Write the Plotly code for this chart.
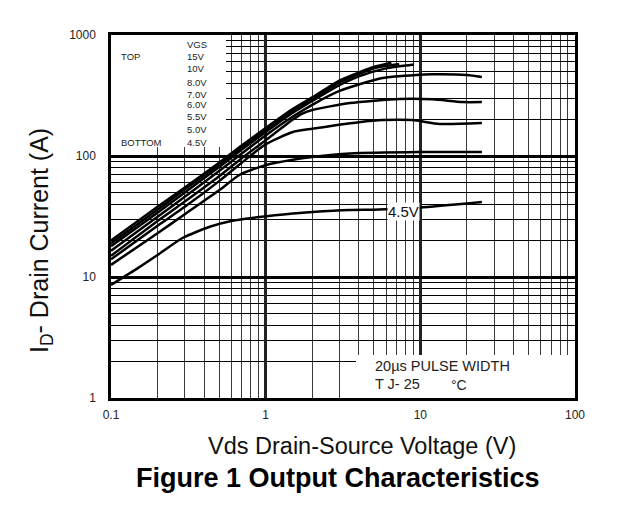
import plotly.graph_objects as go

# ---- data ----
vgs_labels = ["15V", "10V", "8.0V", "7.0V", "6.0V", "5.5V", "5.0V", "4.5V"]

vds_15 = [0.1, 0.2, 0.3, 0.5, 0.7, 1, 1.5, 2, 3, 4, 5, 6.5]
id_15 = [20, 38, 55, 88, 122, 170, 245, 305, 420, 490, 545, 590]

vds_10 = [0.1, 0.2, 0.3, 0.5, 0.7, 1, 1.5, 2, 3, 4, 5, 7.3]
id_10 = [19, 36, 53, 85, 118, 165, 238, 295, 405, 475, 530, 575]

vds_8 = [0.1, 0.2, 0.3, 0.5, 0.7, 1, 1.5, 2, 3, 4, 6, 9.1]
id_8 = [18, 34, 50, 81, 113, 158, 228, 285, 385, 455, 530, 570]

vds_7 = [0.1, 0.2, 0.3, 0.5, 0.7, 1, 1.5, 2, 3, 4, 5.7, 9.4, 12, 20, 25]
id_7 = [16.5, 31.5, 46, 75, 105, 148, 212, 265, 345, 390, 441, 467, 473, 467, 450]

vds_6 = [0.1, 0.2, 0.3, 0.5, 0.7, 1, 1.5, 1.7, 2, 3.5, 7.3, 12, 18.7, 25]
id_6 = [15, 29, 42, 68, 96, 135, 200, 222, 240, 274, 296, 294, 279, 279]

vds_55 = [0.1, 0.2, 0.3, 0.5, 0.7, 1, 1.5, 2, 2.9, 4, 5.7, 8.9, 13.3, 25]
id_55 = [14, 26.5, 38, 62, 88, 125, 158, 168, 180, 190, 198, 198, 184, 187]

vds_5 = [0.1, 0.2, 0.3, 0.5, 0.68, 1, 1.5, 2, 3.5, 10, 25]
id_5 = [12.6, 23, 33, 52, 70, 84, 93, 98, 105, 108, 108]

vds_45 = [0.1, 0.15, 0.2, 0.29, 0.435, 0.6, 0.91, 1.5, 2, 3.5, 5, 7, 10, 25]
id_45 = [8.6, 11.9, 15.2, 21, 26, 29, 31.3, 33.5, 34.5, 35.8, 36, 36.5, 37.5, 41.7]

x_ticks = [0.1, 1, 10, 100]
x_tick_text = ["0.1", "1", "10", "100"]
y_ticks = [1, 10, 100, 1000]
y_tick_text = ["1", "10", "100", "1000"]
minor_vals = [m * 10 ** e for e in range(-1, 3) for m in range(2, 10)]

series = [
    (vds_15, id_15), (vds_10, id_10), (vds_8, id_8), (vds_7, id_7),
    (vds_6, id_6), (vds_55, id_55), (vds_5, id_5), (vds_45, id_45),
]

FONT = "Liberation Sans, Arial, sans-serif"
L, T, PW, PH = 111, 35, 464, 363  # plot area in pixels


def px(xp):
    return (xp - L) / PW


def py(yp):
    return (T + PH - yp) / PH


fig = go.Figure()
for (xs, ys), name in zip(series, vgs_labels):
    fig.add_trace(go.Scatter(x=xs, y=ys, mode="lines", name=name,
                             line=dict(color="black", width=2.5, shape="spline", smoothing=0.6),
                             showlegend=False))

fig.update_layout(
    width=633, height=505,
    margin=dict(l=111, r=58, t=35, b=107),
    paper_bgcolor="white", plot_bgcolor="white",
    font=dict(family=FONT, color="black"),
)

fig.update_xaxes(
    type="log", range=[-1, 2],
    tickvals=x_ticks, ticktext=x_tick_text,
    tickfont=dict(size=12, color="#222"),
    ticks="", ticklabelstandoff=4,
    showgrid=True, gridcolor="#222", gridwidth=2.5,
    minor=dict(tickvals=minor_vals, showgrid=True, gridcolor="#3a3a3a", gridwidth=1.4, ticks=""),
    showline=True, linecolor="black", linewidth=2.5, mirror=True,
    zeroline=False,
)
fig.update_yaxes(
    type="log", range=[0, 3],
    tickvals=y_ticks, ticktext=y_tick_text,
    tickfont=dict(size=12, color="#222"),
    ticks="", ticklabelstandoff=10,
    showgrid=True, gridcolor="black", gridwidth=2.8,
    minor=dict(tickvals=minor_vals, showgrid=True, gridcolor="black", gridwidth=1.4, ticks=""),
    showline=True, linecolor="black", linewidth=2.5, mirror=True,
    zeroline=False,
)

# white boxes that hide the grid (legend box top-left, note box bottom-right)
fig.add_shape(type="rect", xref="paper", yref="paper", x0=0, x1=px(226), y0=py(147), y1=1,
              fillcolor="white", line=dict(width=0), layer="above")
fig.add_shape(type="rect", xref="paper", yref="paper", x0=px(356), x1=1, y0=0, y1=py(355),
              fillcolor="white", line=dict(width=0), layer="above")


def txt(x, y, s, size=9.5, anchor="left"):
    fig.add_annotation(xref="paper", yref="paper", x=x, y=y, text=s, showarrow=False,
                       xanchor=anchor, yanchor="middle", font=dict(size=size, color="#222"))


# legend-like text
txt(px(185), py(45), "VGS")
txt(px(119), py(57), "TOP")
legend_rows = [57, 68, 82, 94, 104, 117, 129, 142]
for lab, yy in zip(vgs_labels, legend_rows):
    txt(px(185), py(yy), lab)
txt(px(119), py(142), "BOTTOM")

# 4.5V curve label
fig.add_annotation(xref="paper", yref="paper", x=px(403), y=py(211),
                   text="4.5V", showarrow=False, bgcolor="white", borderpad=0,
                   font=dict(size=15, color="#111"))

# pulse note
txt(px(373), py(366), "20µs PULSE WIDTH", size=14.5)
txt(px(373), py(384), "T J- 25", size=14.5)
txt(px(449), py(385), "°C", size=14)

# axis titles
fig.add_annotation(xref="paper", yref="paper", x=px(362), y=py(446),
                   text="Vds Drain-Source Voltage (V)", showarrow=False,
                   xanchor="center", yanchor="middle", font=dict(size=23.5, color="#111"))
fig.add_annotation(xref="paper", yref="paper", x=px(41), y=py(241),
                   text="I<sub>D</sub>- Drain Current (A)", showarrow=False, textangle=-90,
                   xanchor="center", yanchor="middle", font=dict(size=25, color="#111"))

# figure caption
fig.add_annotation(xref="paper", yref="paper", x=px(338), y=py(478),
                   text="<b>Figure 1 Output Characteristics</b>", showarrow=False,
                   xanchor="center", yanchor="middle", font=dict(size=27, color="black"))

fig.write_html("out.html")
